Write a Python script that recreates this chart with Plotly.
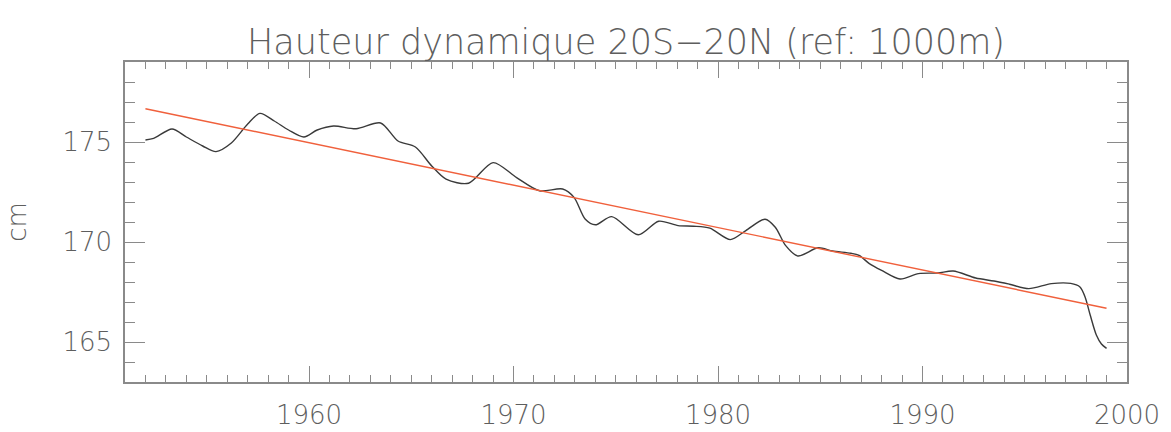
import plotly.graph_objects as go

# Dynamic height anomaly series, 20S-20N, reference level 1000 m (cm)
years = [1952.0, 1952.4, 1953.3, 1954.0, 1954.8, 1955.45, 1956.2, 1957.0, 1957.6,
         1958.3, 1959.0, 1959.75, 1960.4, 1961.2, 1962.3, 1963.5, 1964.35, 1965.2,
         1966.0, 1966.7, 1967.8, 1969.0, 1970.15, 1971.27, 1972.4, 1972.96, 1973.5,
         1974.0, 1974.8, 1976.1, 1977.1, 1978.05, 1978.8, 1979.6, 1980.6, 1981.36,
         1982.3, 1982.8, 1983.3, 1983.9, 1984.9, 1985.6, 1986.5, 1986.9, 1987.4,
         1988.0, 1988.9, 1989.8, 1990.75, 1991.5, 1992.6, 1993.5, 1994.25, 1995.2,
         1996.3, 1997.25, 1997.7, 1997.95, 1998.2, 1998.5, 1998.75, 1999.0]
height_cm = [175.10, 175.18, 175.65, 175.25, 174.80, 174.52, 174.95, 175.90, 176.43,
             176.05, 175.60, 175.25, 175.60, 175.80, 175.66, 175.95, 175.05, 174.75,
             173.80, 173.14, 172.94, 173.97, 173.22, 172.56, 172.65, 172.23, 171.15,
             170.86, 171.27, 170.36, 171.04, 170.82, 170.79, 170.69, 170.12, 170.57,
             171.14, 170.74, 169.83, 169.30, 169.71, 169.55, 169.44, 169.33, 168.92,
             168.58, 168.15, 168.42, 168.45, 168.55, 168.20, 168.05, 167.89, 167.67,
             167.92, 167.93, 167.75, 167.25, 166.35, 165.35, 164.90, 164.68]

# Linear trend end points
trend_years = [1952.0, 1999.0]
trend_cm = [176.66, 166.69]

x_tick_vals = [1960, 1970, 1980, 1990, 2000]
x_tick_text = ["1960", "1970", "1980", "1990", "2000"]
y_tick_vals = [165, 170, 175]
y_tick_text = ["165", "170", "175"]

axis_color = "#8a8a8a"
text_color = "#5e5e5e"
font_family = "DejaVu Sans"
tick_size = 26

fig = go.Figure()
fig.add_trace(go.Scatter(
    x=years, y=height_cm, mode="lines",
    line=dict(color="#3a3a3a", width=1.4, shape="spline", smoothing=0.8),
    showlegend=False, hoverinfo="x+y",
))
fig.add_trace(go.Scatter(
    x=trend_years, y=trend_cm, mode="lines",
    line=dict(color="#f0603c", width=1.4),
    showlegend=False, hoverinfo="x+y",
))

fig.update_layout(
    width=1171, height=432,
    margin=dict(l=125, r=44, t=62, b=50, autoexpand=False),
    paper_bgcolor="white", plot_bgcolor="white",
    font=dict(family=font_family, color=text_color, size=tick_size, weight=200),
    title=dict(
        text="Hauteur dynamique 20S\u221220N (ref: 1000m)",
        x=(125 + 1127) / 2 / 1171, xanchor="center",
        y=1 - 54 / 432, yanchor="bottom", yref="container",
        font=dict(family=font_family, size=35, color=text_color, weight=200),
        pad=dict(t=0, b=0),
    ),
    xaxis=dict(
        range=[1951, 2000], showgrid=False, zeroline=False, automargin=False,
        showline=True, linecolor=axis_color, linewidth=1.5, mirror="ticks",
        ticks="inside", ticklen=16, tickwidth=1.3, tickcolor=axis_color,
        tickvals=x_tick_vals, ticktext=x_tick_text,
        tickfont=dict(size=tick_size, color=text_color, family=font_family, weight=200),
        ticklabelstandoff=9,
        minor=dict(ticks="inside", ticklen=7, tickwidth=1.2, tickcolor=axis_color,
                   dtick=1, tick0=1951, showgrid=False),
    ),
    yaxis=dict(
        range=[163, 179], showgrid=False, zeroline=False, automargin=False,
        showline=True, linecolor=axis_color, linewidth=1.5, mirror="ticks",
        ticks="inside", ticklen=20, tickwidth=1.3, tickcolor=axis_color,
        tickvals=y_tick_vals, ticktext=y_tick_text,
        tickfont=dict(size=tick_size, color=text_color, family=font_family, weight=200),
        ticklabelstandoff=6,
        minor=dict(ticks="inside", ticklen=10, tickwidth=1.2, tickcolor=axis_color,
                   dtick=1, tick0=163, showgrid=False),
        title=dict(text="cm", standoff=28,
                   font=dict(size=26, color=text_color, family=font_family, weight=200)),
    ),
)

fig.write_html("out.html")
